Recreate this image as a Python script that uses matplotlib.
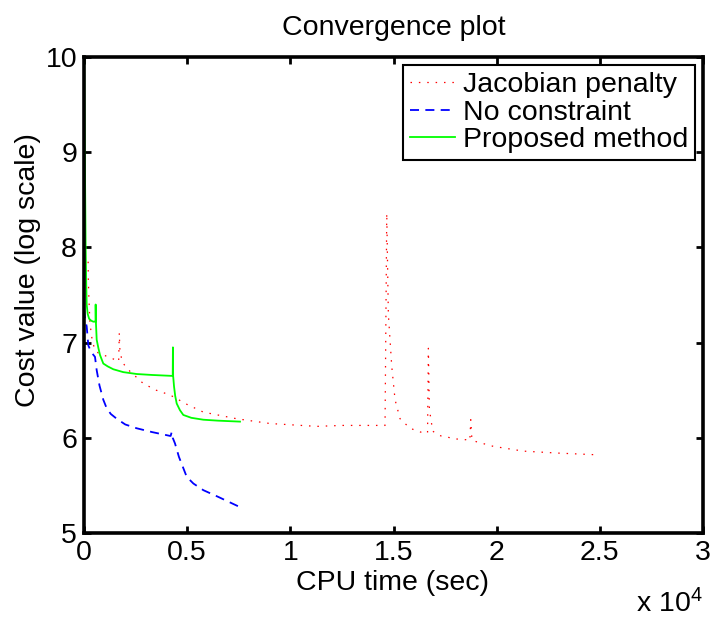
import matplotlib
matplotlib.use("Agg")
import matplotlib.pyplot as plt
from matplotlib import font_manager
from matplotlib.ticker import FixedLocator, FuncFormatter

# CPU time (sec) / cost value
jac_x = [200, 210, 240, 290, 400, 533, 700, 935, 1300, 1600, 1680, 1711, 1740, 1850, 2070,
         2874, 3500, 4169, 5000, 5783, 7402, 9016, 11280, 12500, 14000, 14590, 14673,
         14750, 14915, 15075, 15318, 15802, 16447, 16650, 16690, 16740, 16900, 17174,
         17300, 17581, 17901, 18500, 18700, 18745, 18800, 19000, 19840, 21295, 22913, 25010]
jac_y = [7.85, 7.66, 7.45, 7.20, 7.02, 6.92, 6.89, 6.87, 6.84, 6.81, 6.80, 7.10, 6.92, 6.80, 6.73,
         6.57, 6.50, 6.45, 6.35, 6.27, 6.20, 6.15, 6.12, 6.13, 6.13, 6.13, 8.36,
         7.30, 6.75, 6.40, 6.20, 6.10, 6.05, 6.05, 6.94, 6.30, 6.07, 6.03,
         6.02, 6.01, 5.99, 5.98, 5.97, 6.19, 5.98, 5.96, 5.91, 5.86, 5.84, 5.82]

noc_x = [0, 50, 130, 210, 350, 533, 615, 750, 935, 1100, 1300, 1585, 2000, 2555, 3300,
         4169, 4200, 4250, 4300, 4411, 4600, 4978, 5300, 5783, 6500, 7480]
noc_y = [7.35, 7.25, 7.17, 6.97, 6.90, 6.85, 6.71, 6.55, 6.40, 6.31, 6.25, 6.20, 6.14, 6.10, 6.06,
         6.02, 6.02, 6.06, 6.00, 5.94, 5.80, 5.59, 5.52, 5.45, 5.38, 5.28]

prop_x = [0, 40, 80, 110, 130, 180, 250, 350, 450, 540, 560, 565, 580, 615, 700, 775, 935,
          1150, 1420, 1900, 2555, 3300, 4300, 4310, 4320, 4340, 4363, 4420, 4493, 4650,
          4813, 5200, 5783, 6500, 7560]
prop_y = [10.3, 9.0, 8.0, 7.6, 7.4, 7.3, 7.25, 7.23, 7.22, 7.22, 7.22, 7.40, 7.2, 7.03, 6.94,
          6.87, 6.78, 6.75, 6.72, 6.69, 6.67, 6.66, 6.65, 6.95, 6.65, 6.60, 6.54, 6.44, 6.36,
          6.29, 6.24, 6.21, 6.19, 6.18, 6.17]

x_ticks = [0, 5000, 10000, 15000, 20000, 25000, 30000]
y_ticks = [5, 6, 7, 8, 9, 10]

names = {f.name for f in font_manager.fontManager.ttflist}
narrow = "Liberation Sans Narrow" in names
family = "Liberation Sans Narrow" if narrow else "Liberation Sans"
plt.rcParams["font.family"] = [family, "DejaVu Sans"]
plt.rcParams["mathtext.fontset"] = "custom"
plt.rcParams["mathtext.rm"] = family
plt.rcParams["mathtext.default"] = "regular"

FS = 25 if narrow else 20.5

fig = plt.figure(figsize=(7.24, 6.21), dpi=100)
ax = fig.add_axes([84 / 724, 1 - 533 / 621, 619 / 724, 476 / 621])

ax.plot(jac_x, jac_y, color=(1, 0, 0), lw=0.9, dashes=(1.2, 5.5), label="Jacobian penalty")
ax.plot(noc_x, noc_y, color=(0, 0, 1), lw=1.3, dashes=(5, 3.5), label="No constraint")
ax.plot(prop_x, prop_y, color=(0, 1, 0), lw=1.3, label="Proposed method")

ax.set_xlim(0, 30000)
ax.set_ylim(5, 10)
ax.xaxis.set_major_locator(FixedLocator(x_ticks))
ax.yaxis.set_major_locator(FixedLocator(y_ticks))
ax.xaxis.set_major_formatter(FuncFormatter(lambda v, p: f"{v / 1e4:g}"))
ax.yaxis.set_major_formatter(FuncFormatter(lambda v, p: f"{v:g}"))
ax.tick_params(direction="in", length=5, width=2, labelsize=FS, top=True, right=True, pad=5)
for s in ax.spines.values():
    s.set_linewidth(2.6)

ax.set_title("Convergence plot", fontsize=FS, pad=16)
ax.set_xlabel("CPU time (sec)", fontsize=FS)
ax.set_ylabel("Cost value (log scale)", fontsize=FS)
ax.xaxis.set_label_coords(0.498, -0.078)
ax.yaxis.set_label_coords(-0.07, 0.553)
ax.text(1.0, -0.118, "x 10$^{4}$", transform=ax.transAxes, fontsize=FS,
        ha="right", va="top")

leg = ax.legend(loc="upper right", bbox_to_anchor=(0.987, 0.983), borderaxespad=0,
                fontsize=FS, fancybox=False, framealpha=1, edgecolor="black",
                handlelength=1.6, handletextpad=0.25, labelspacing=0.05, borderpad=0.25)
leg.get_frame().set_linewidth(1.5)

fig.savefig("out.png", dpi=100)
